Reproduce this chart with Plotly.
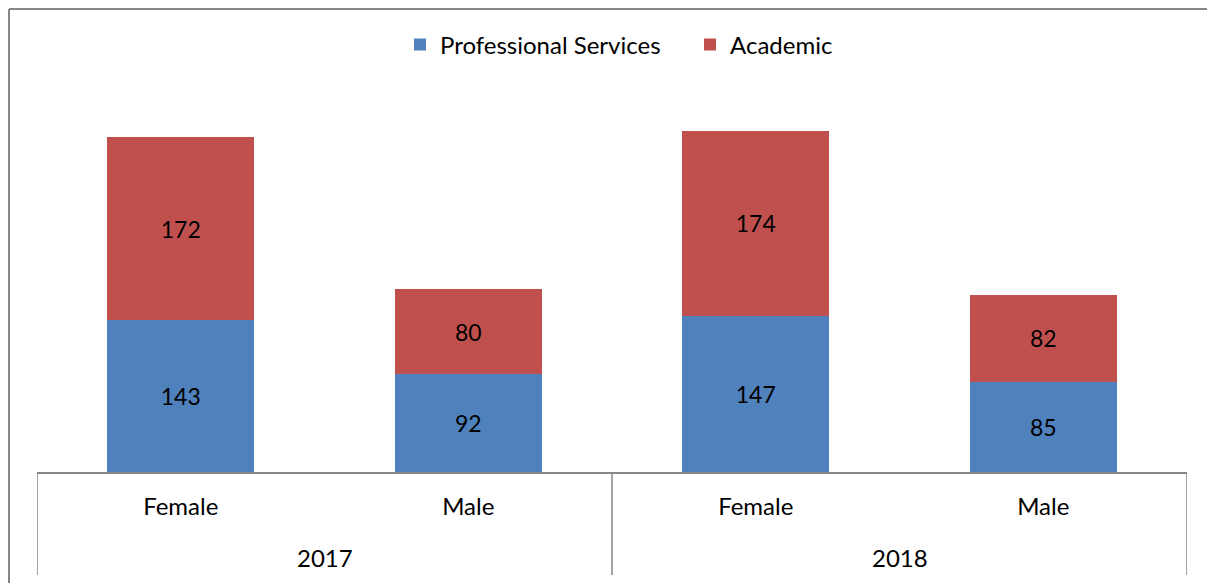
import plotly.graph_objects as go

years = ["2017", "2017", "2018", "2018"]
genders = ["Female", "Male", "Female", "Male"]
professional = [143, 92, 147, 85]
academic = [172, 80, 174, 82]

FONT = "Lato, Open Sans, sans-serif"
FS = 23
FS2 = 24
OFF = 8  # page body margin
FW, FH = 1215 - OFF, 583 - OFF
xpos = list(range(len(genders)))

fig = go.Figure()
fig.add_trace(go.Bar(x=xpos, y=professional, name="Professional Services",
                     marker=dict(color="#4F81BD", line=dict(width=0)),
                     text=professional, textposition="inside", insidetextanchor="middle",
                     textfont=dict(color="black", size=FS, family=FONT)))
fig.add_trace(go.Bar(x=xpos, y=academic, name="Academic",
                     marker=dict(color="#C0504D", line=dict(width=0)),
                     text=academic, textposition="inside", insidetextanchor="middle",
                     textfont=dict(color="black", size=FS, family=FONT)))

PT, PB = 100 - OFF, 472 - OFF  # plot top/bottom in figure px
PL, PR = 37 - OFF, 1187 - OFF
H = PB - PT
W = PR - PL
fig.update_layout(
    barmode="stack", bargap=0.49,
    width=FW, height=FH,
    margin=dict(l=PL, r=FW - PR, t=PT, b=FH - PB, autoexpand=False),
    paper_bgcolor="white", plot_bgcolor="white",
    font=dict(family=FONT, size=FS2, color="black"),
    showlegend=True,
    legend=dict(orientation="h", x=(400 - 37) / W, xanchor="left",
                y=(PB - (45 - OFF)) / H, yanchor="middle", entrywidth=245,
                font=dict(size=FS2), traceorder="normal", bgcolor="rgba(0,0,0,0)"),
    uniformtext=dict(minsize=FS, mode="show"),
)
fig.update_xaxes(range=[-0.5, len(genders) - 0.5], tickvals=xpos, ticktext=genders,
                 showline=True, linecolor="#868686", linewidth=1.5,
                 ticks="", ticklabelstandoff=12, tickfont=dict(size=FS2, family=FONT),
                 showgrid=False, zeroline=False)
fig.update_yaxes(range=[0, 350], visible=False, showgrid=False)

# year group labels and dividers
groups = []
for i, y in enumerate(years):
    if not groups or groups[-1][0] != y:
        groups.append([y, i, i])
    else:
        groups[-1][2] = i
for y, a, b in groups:
    fig.add_annotation(x=(a + b) / 2, xref="x", y=-(557 - 472) / H, yref="paper",
                       text=y, showarrow=False, yanchor="middle",
                       font=dict(size=FS2, family=FONT, color="black"))
bounds = sorted({g[1] - 0.5 for g in groups} | {g[2] + 0.5 for g in groups})
for bx in bounds:
    fig.add_shape(type="line", xref="x", yref="paper", x0=bx, x1=bx, y0=0, y1=-(575 - 472) / H,
                  line=dict(color="#868686", width=1.5))

# chart-area border (left and top edges visible in the crop)
bx0 = (1 - PL) / W
bx1 = (FW - PL) / W
by0 = -(FH - PB) / H
by1 = (PB - 1) / H
fig.add_shape(type="line", xref="paper", yref="paper", x0=bx0, x1=bx0, y0=by0, y1=by1,
              line=dict(color="#868686", width=2), layer="below")
fig.add_shape(type="line", xref="paper", yref="paper", x0=bx0, x1=bx1, y0=by1, y1=by1,
              line=dict(color="#868686", width=2), layer="below")

fig.write_html("out.html")
